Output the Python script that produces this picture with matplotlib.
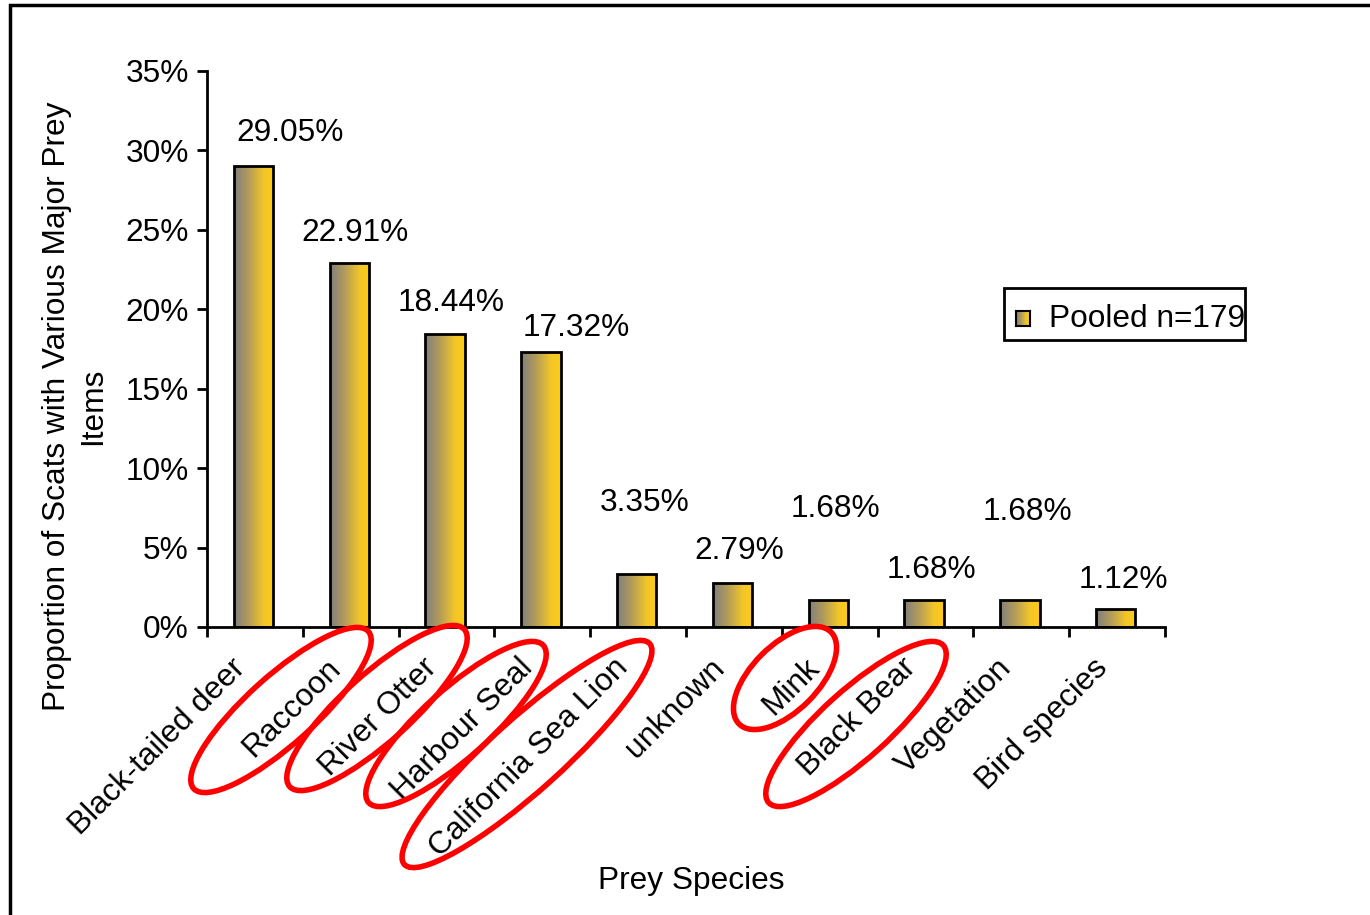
import matplotlib
matplotlib.use("Agg")
import matplotlib.pyplot as plt
import numpy as np
from matplotlib.patches import Ellipse, Rectangle
from matplotlib.colors import LinearSegmentedColormap
from matplotlib.ticker import FuncFormatter
from matplotlib.transforms import IdentityTransform

categories = ["Black-tailed deer", "Raccoon", "River Otter", "Harbour Seal",
              "California Sea Lion", "unknown", "Mink", "Black Bear",
              "Vegetation", "Bird species"]
values = [29.05, 22.91, 18.44, 17.32, 3.35, 2.79, 1.68, 1.68, 1.68, 1.12]
labels = ["29.05%", "22.91%", "18.44%", "17.32%", "3.35%", "2.79%",
          "1.68%", "1.68%", "1.68%", "1.12%"]
series_name = "Pooled n=179"
yticks = [0, 5, 10, 15, 20, 25, 30, 35]

# label placement offsets (style): (dx in categories, y in %)
label_dx = [0.37, 0.04, 0.05, 0.35, 0.07, 0.06, 0.06, 0.06, 0.06, 0.07]
label_y = [31.1, 24.8, 20.4, 18.8, 7.8, 4.77, 7.4, 3.58, 7.23, 2.95]

# circled labels (figure pixel centers, length, width, angle)
ellipses = [(281, 710, 235, 68, 42), (377, 708, 235, 68, 42),
            (456, 724, 235, 68, 42), (527, 754, 330, 72, 42),
            (785, 678, 130, 66, 45), (856, 724, 235, 68, 42)]

plt.rcParams['font.family'] = ['Liberation Sans', 'DejaVu Sans']
FS = 22.8

W, H = 1370, 915
fig = plt.figure(figsize=(W / 100, H / 100), dpi=100)
ax = fig.add_axes([207 / W, 1 - 627 / H, (1165 - 207) / W, (627 - 71) / H])

n = len(categories)
x = np.arange(n)
bw = 0.41
bars = ax.bar(x - 0.015, values, width=bw, facecolor='none', edgecolor='black',
              linewidth=2, zorder=3)

cmap = LinearSegmentedColormap.from_list(
    "g", [(0.0, "#7f7f7f"), (0.35, "#b09a5c"), (0.75, "#f2c62a"), (1.0, "#ffcc11")])
grad = np.linspace(0, 1, 256).reshape(1, -1)
for b in bars:
    x0, y0 = b.get_x(), b.get_y()
    im = ax.imshow(grad, cmap=cmap, aspect='auto', origin='lower',
                   extent=[x0, x0 + b.get_width(), y0, y0 + b.get_height()],
                   zorder=2, interpolation='bilinear')
    im.set_clip_path(b)

ax.set_xlim(-0.5, n - 0.5)
ax.set_ylim(0, 35)
ax.set_yticks(yticks)
ax.yaxis.set_major_formatter(FuncFormatter(lambda v, p: f"{int(v)}%"))
ax.set_xticks(np.arange(-0.5, n, 1.0))
ax.set_xticklabels([])
ax.tick_params(axis='both', direction='out', length=7, width=2, labelsize=FS, pad=4)
ax.tick_params(axis='y', pad=6)
for s in ['top', 'right']:
    ax.spines[s].set_visible(False)
for s in ['left', 'bottom']:
    ax.spines[s].set_linewidth(2)

for i in range(n):
    ax.text(x[i] - 0.15, -2.3, categories[i], rotation=45, rotation_mode='anchor',
            ha='right', va='center', fontsize=FS)

for i in range(n):
    ax.text(x[i] + label_dx[i], label_y[i], labels[i], ha='center', va='center',
            fontsize=FS)

fig.text(691 / W, 1 - 881 / H, "Prey Species", ha='center', va='center', fontsize=FS)
fig.text(75 / W, 1 - 406 / H, "Proportion of Scats with Various Major Prey\nItems",
         rotation=90, ha='center', va='center', fontsize=FS, linespacing=1.25)

# legend box
fig.patches.append(Rectangle((1004 / W, 1 - 340 / H), 241 / W, 52 / H,
                             transform=fig.transFigure, fill=False,
                             edgecolor='black', linewidth=2))
lim = fig.add_axes([1016 / W, 1 - 326 / H, 14 / W, 15 / H])
lim.imshow(grad, cmap=cmap, aspect='auto', extent=[0, 1, 0, 1])
lim.set_xticks([]); lim.set_yticks([])
for s in lim.spines.values():
    s.set_linewidth(1.5)
fig.text(1049 / W, 1 - 319 / H, series_name, ha='left', va='center', fontsize=FS)

# outer frame
fig.patches.append(Rectangle((10 / W, -0.1), 1.2, 1 - 5 / H + 0.1,
                             transform=fig.transFigure, fill=False,
                             edgecolor='black', linewidth=2.5))

for (cx, cy, L, Wd, ang) in ellipses:
    e = Ellipse((cx, H - cy), L, Wd, angle=ang, fill=False, edgecolor='#ff0000',
                linewidth=4, transform=IdentityTransform())
    fig.patches.append(e)

fig.savefig("out.png", dpi=100)
